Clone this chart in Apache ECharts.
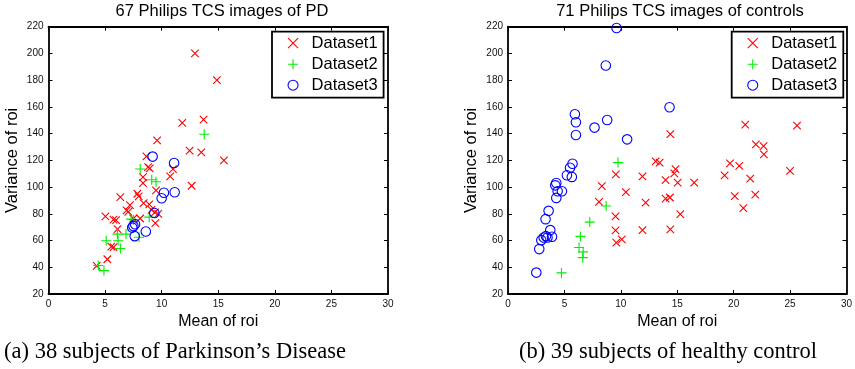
<!DOCTYPE html>
<html>
<head>
<meta charset="utf-8">
<script src="https://cdn.jsdelivr.net/npm/echarts@6/dist/echarts.min.js"></script>
<style>
html,body{margin:0;padding:0;background:#fff;}
#chart{width:855px;height:369px;}
</style>
</head>
<body>
<div id="chart"></div>
<script>
// ---- data ----
var seriesNames = ['Dataset1', 'Dataset2', 'Dataset3'];
var xTicks = [0, 5, 10, 15, 20, 25, 30];
var yTicks = [20, 40, 60, 80, 100, 120, 140, 160, 180, 200, 220];

// (a) Parkinson's disease
var pdDataset1 = [
  [12.94, 200], [14.88, 180], [11.82, 148], [13.7, 150.5], [9.6, 135],
  [12.47, 127.3], [13.5, 126], [15.5, 120], [8.65, 123], [8.8, 115],
  [8.95, 114], [11.0, 113.5], [10.75, 108], [8.35, 107.5], [8.35, 103],
  [12.65, 101], [9.5, 97.5], [6.35, 92.5], [7.85, 95], [7.97, 93],
  [7.2, 86.5], [8.4, 88], [8.9, 87], [6.9, 82.5], [7.05, 81.5],
  [9.1, 83], [9.4, 81], [9.7, 80], [8.1, 76.5], [5.03, 78],
  [5.74, 75.7], [5.97, 75.3], [7.5, 76.5], [9.44, 73], [6.1, 68.5],
  [5.55, 55.5], [5.75, 55], [5.2, 46], [4.26, 41]
];
var pdDataset2 = [
  [13.76, 139.5], [8.1, 113.5], [9.12, 105.5], [9.5, 104], [7.3, 76],
  [7.5, 75.5], [8.9, 77.5], [6.09, 64.8], [6.85, 64.8], [5.1, 59.8],
  [6.15, 59.8], [6.35, 54], [8.0, 62.5], [4.4, 41.3], [4.9, 37.5]
];
var pdDataset3 = [
  [9.2, 122.8], [11.1, 118], [10.2, 95.8], [10.0, 91.6], [11.15, 96.1],
  [9.35, 80.6], [7.5, 70.8], [7.65, 72.2], [7.4, 69.7], [7.62, 63.3],
  [8.6, 66.8]
];

// (b) healthy controls
var ctDataset1 = [
  [9.56, 109.5], [8.32, 100.7], [8.07, 89], [10.45, 96.2], [9.53, 78],
  [9.53, 67.6], [9.6, 58.5], [10.09, 60.8], [11.92, 108], [12.2, 88.3],
  [11.92, 67.8], [14.39, 139.7], [21.03, 146.7], [25.62, 145.9], [21.97, 132],
  [22.65, 130.7], [22.68, 124.4], [13.09, 119.2], [13.44, 118.3], [14.85, 113.5],
  [14.74, 110.3], [13.97, 105.2], [15.04, 103.4], [16.5, 103.3], [19.68, 117.8],
  [20.5, 115.8], [19.2, 108.8], [21.47, 106.3], [25.0, 112.1], [20.1, 93.3],
  [21.92, 94.3], [20.86, 84.3], [13.97, 91.4], [14.35, 92.2], [15.27, 79.8],
  [14.39, 68.4]
];
var ctDataset2 = [
  [9.75, 118.3], [8.7, 85.8], [7.25, 73.8], [6.42, 63.1], [6.3, 54.8],
  [6.66, 51.5], [6.63, 47.2], [4.74, 35.8]
];
var ctDataset3 = [
  [2.51, 36], [2.77, 53.6], [2.95, 60.3], [3.16, 62.3], [3.36, 63.3],
  [3.5, 62.3], [3.9, 62.8], [3.75, 67.8], [3.33, 76], [3.6, 82.2],
  [4.28, 91.9], [4.4, 96.9], [4.78, 96.9], [4.19, 101.3], [4.28, 103],
  [5.22, 108.8], [5.66, 107.6], [5.5, 114.5], [5.72, 117.5], [9.62, 219],
  [8.67, 191], [5.93, 154.5], [6.02, 148.5], [6.02, 139], [7.67, 144.5],
  [8.79, 150.2], [10.56, 135.7], [14.32, 159.7]
];

var titles = ['67 Philips TCS images of PD', '71 Philips TCS images of controls'];
var captions = ['(a) 38 subjects of Parkinson\u2019s Disease', '(b) 39 subjects of healthy control'];
var xName = 'Mean of roi';
var yName = 'Variance of roi';

// ---- styles ----
var FONT = 'Liberation Sans, Arial, Helvetica, sans-serif';
var colors = ['#ff0000', '#00ee00', '#0000ff'];
var symbols = ['path://M0 0L10 10M10 0L0 10', 'path://M5 0L5 10M0 5L10 5', 'circle'];
var sizes = [7.5, 10, 9.5];

var grids = [
  {left: 48.5, top: 26.7, width: 339.5, height: 267.3},
  {left: 508, top: 26.7, width: 340.3, height: 267.3}
];

function xAx(gi, pos, showLabel, name) {
  return {
    type: 'value', gridIndex: gi, position: pos, min: 0, max: 30, interval: 5,
    axisLine: {show: true, onZero: false, lineStyle: {color: '#000', width: 1.8}},
    axisTick: {show: true, inside: true, length: 4, lineStyle: {color: '#000', width: 1}},
    axisLabel: {show: showLabel, color: '#111', fontFamily: FONT, fontSize: 10, margin: 5},
    splitLine: {show: false},
    name: name, nameLocation: 'middle', nameGap: 17,
    nameTextStyle: {color: '#000', fontFamily: FONT, fontSize: 16}
  };
}
function yAx(gi, pos, showLabel, name) {
  return {
    type: 'value', gridIndex: gi, position: pos, min: 20, max: 220, interval: 20,
    axisLine: {show: true, onZero: false, lineStyle: {color: '#000', width: 1.8}},
    axisTick: {show: true, inside: true, length: 4, lineStyle: {color: '#000', width: 1}},
    axisLabel: {show: showLabel, color: '#111', fontFamily: FONT, fontSize: 10, margin: 5},
    splitLine: {show: false},
    name: name, nameLocation: 'middle', nameGap: 28,
    nameTextStyle: {color: '#000', fontFamily: FONT, fontSize: 16.5}
  };
}

var xAxes = [xAx(0, 'bottom', true, xName), xAx(0, 'top', false, ''),
             xAx(1, 'bottom', true, xName), xAx(1, 'top', false, '')];
var yAxes = [yAx(0, 'left', true, yName), yAx(0, 'right', false, ''),
             yAx(1, 'left', true, yName), yAx(1, 'right', false, '')];

function sc(name, idx, axisIdx, data) {
  return {
    type: 'scatter', name: name, xAxisIndex: axisIdx, yAxisIndex: axisIdx,
    data: data, symbol: symbols[idx], symbolSize: sizes[idx],
    itemStyle: {color: 'rgba(0,0,0,0)', borderColor: colors[idx], borderWidth: 1.1, opacity: 1},
    emphasis: {disabled: true}, silent: true
  };
}
var series = [
  sc(seriesNames[0], 0, 0, pdDataset1), sc(seriesNames[1], 1, 0, pdDataset2), sc(seriesNames[2], 2, 0, pdDataset3),
  sc(seriesNames[0], 0, 2, ctDataset1), sc(seriesNames[1], 1, 2, ctDataset2), sc(seriesNames[2], 2, 2, ctDataset3)
];

function legendAt(left) {
  return {
    orient: 'vertical', left: left, top: 31.7, selectedMode: false,
    padding: [3, 6, 4, 15.5], itemGap: 4, itemWidth: 19, itemHeight: 10,
    borderColor: '#000', borderWidth: 1.8, backgroundColor: '#fff',
    textStyle: {color: '#000', fontFamily: FONT, fontSize: 16.5, lineHeight: 16, padding: [0, 0, 0, 4]},
    data: seriesNames.map(function (n, i) {
      return {name: n, icon: symbols[i],
        itemStyle: {color: 'rgba(0,0,0,0)', borderColor: colors[i], borderWidth: 1.1}};
    })
  };
}

var option = {
  animation: false,
  backgroundColor: '#fff',
  title: [
    {text: titles[0], left: 222, top: 2, textAlign: 'center', padding: 0,
     textStyle: {fontFamily: FONT, fontSize: 16.5, fontWeight: 'normal', color: '#000', lineHeight: 18}},
    {text: titles[1], left: 680, top: 2, textAlign: 'center', padding: 0,
     textStyle: {fontFamily: FONT, fontSize: 16.5, fontWeight: 'normal', color: '#000', lineHeight: 18}},
    {text: captions[0], left: 175, top: 339, textAlign: 'center', padding: 0,
     textStyle: {fontFamily: 'Liberation Serif, DejaVu Serif, serif', fontSize: 22.5, fontWeight: 'normal', color: '#000', lineHeight: 26}},
    {text: captions[1], left: 668, top: 339, textAlign: 'center', padding: 0,
     textStyle: {fontFamily: 'Liberation Serif, DejaVu Serif, serif', fontSize: 22.5, fontWeight: 'normal', color: '#000', lineHeight: 26}}
  ],
  legend: [legendAt(272), legendAt(731.7)],
  grid: grids,
  xAxis: xAxes,
  yAxis: yAxes,
  series: series
};

var chart = echarts.init(document.getElementById('chart'), null, {renderer: 'canvas'});
chart.setOption(option);
</script>
</body>
</html>
